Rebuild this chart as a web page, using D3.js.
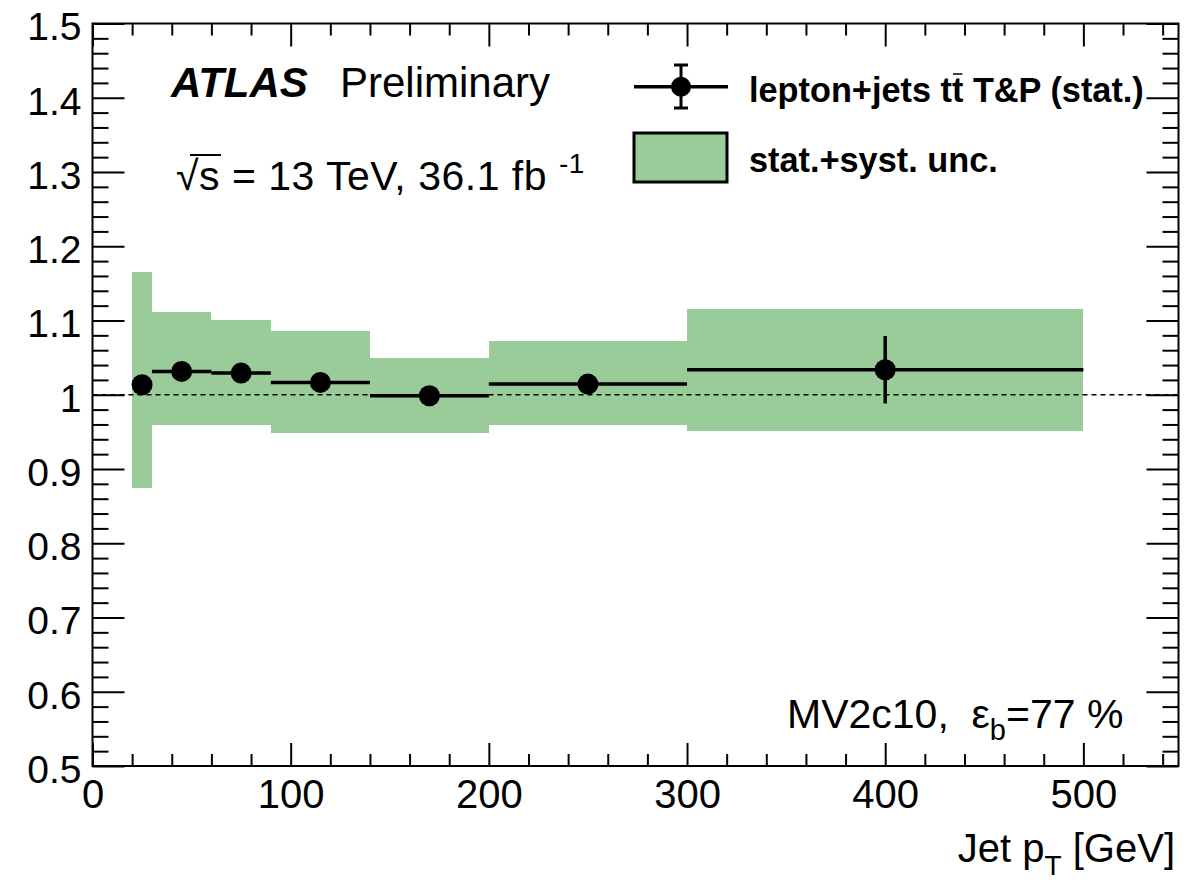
<!DOCTYPE html>
<html>
<head>
<meta charset="utf-8">
<script src="https://cdn.jsdelivr.net/npm/d3@7"></script>
<style>
  body { margin: 0; background: #fff; }
  svg { display: block; font-family: "Liberation Sans", Arial, sans-serif; }
</style>
</head>
<body>
<svg id="chart" width="1201" height="882"></svg>
<script>
// values
// =====================
const binLow = [20, 30, 60, 90, 140, 200, 300]
const binHigh = [30, 60, 90, 140, 200, 300, 500]
const binCenter = [25, 45, 75, 115, 170, 250, 400]
const sfValue = [1.0135, 1.0314, 1.0292, 1.0166, 0.9987, 1.0144, 1.0337]
const statErr = [0.006, 0.005, 0.005, 0.006, 0.007, 0.010, 0.0454]
const bandHigh = [1.1654, 1.1115, 1.1001, 1.0853, 1.0495, 1.0718, 1.1159]
const bandLow = [0.875, 0.9586, 0.9586, 0.9484, 0.9484, 0.9586, 0.9506]

const xMajor = [0, 100, 200, 300, 400, 500]
const xMinor = d3.range(20, 548, 20).filter(v => v % 100 !== 0)
const yMajor = [0.5, 0.6, 0.7, 0.8, 0.9, 1, 1.1, 1.2, 1.3, 1.4, 1.5]
const yMinor = d3.range(52, 150, 2).map(v => v / 100).filter(v => Math.round(v * 100) % 10 !== 0)

const bandColor = '#99cc99'
const frame = { left: 92.5, right: 1178.5, top: 23.5, bottom: 766 }

const x = d3.scaleLinear().domain([0, 548]).range([frame.left, frame.right])
const y = d3.scaleLinear().domain([0.5, 1.5]).range([frame.bottom, frame.top])

const svg = d3.select('#chart')

const bins = binLow.map((lo, i) => ({
  lo, hi: binHigh[i], c: binCenter[i], v: sfValue[i], e: statErr[i],
  up: bandHigh[i], dn: bandLow[i]
}))

// uncertainty band
svg.append('g')
  .selectAll('rect')
  .data(bins)
  .join('rect')
  .attr('x', d => x(d.lo))
  .attr('width', d => x(d.hi) - x(d.lo))
  .attr('y', d => y(d.up))
  .attr('height', d => y(d.dn) - y(d.up))
  .attr('fill', bandColor)
  .attr('shape-rendering', 'crispEdges')

// reference line at 1
svg.append('line')
  .attr('x1', frame.left).attr('x2', frame.right)
  .attr('y1', y(1)).attr('y2', y(1))
  .attr('stroke', '#000')
  .attr('stroke-width', 1.5)
  .attr('stroke-dasharray', '5,4')

// data points
const pts = svg.append('g')
pts.selectAll('line.h')
  .data(bins)
  .join('line')
  .attr('class', 'h')
  .attr('x1', d => x(d.lo)).attr('x2', d => x(d.hi))
  .attr('y1', d => y(d.v)).attr('y2', d => y(d.v))
  .attr('stroke', '#000').attr('stroke-width', 3.5)
pts.selectAll('line.v')
  .data(bins)
  .join('line')
  .attr('class', 'v')
  .attr('x1', d => x(d.c)).attr('x2', d => x(d.c))
  .attr('y1', d => y(d.v + d.e)).attr('y2', d => y(d.v - d.e))
  .attr('stroke', '#000').attr('stroke-width', 3.5)
pts.selectAll('circle')
  .data(bins)
  .join('circle')
  .attr('cx', d => x(d.c))
  .attr('cy', d => y(d.v))
  .attr('r', 10.5)
  .attr('fill', '#000')

// axes
// ====
function addAxis(gen, tx, ty, opt) {
  const g = svg.append('g')
    .attr('transform', `translate(${tx},${ty})`)
    .call(gen)
  g.select('.domain').remove()
  g.selectAll('.tick line').attr('stroke', '#000').attr('stroke-width', 2)
  g.attr('font-family', null).attr('font-size', opt.fontSize || 10)
  g.selectAll('.tick text').attr('fill', '#000')
  return g
}

addAxis(d3.axisBottom(x).tickValues(xMajor).tickSize(-23).tickPadding(13.6).tickFormat(d3.format('d')),
  0, frame.bottom, { fontSize: 40 })
addAxis(d3.axisBottom(x).tickValues(xMinor).tickSize(-12).tickFormat(''), 0, frame.bottom, {})
addAxis(d3.axisTop(x).tickValues(xMajor).tickSize(-23).tickFormat(''), 0, frame.top, {})
addAxis(d3.axisTop(x).tickValues(xMinor).tickSize(-12).tickFormat(''), 0, frame.top, {})

const yLeft = addAxis(d3.axisLeft(y).tickValues(yMajor).tickSize(-32).tickPadding(11).tickFormat(d3.format('~g')),
  frame.left, 0, { fontSize: 39 })
yLeft.selectAll('.tick text').attr('dy', '0.42em')
addAxis(d3.axisLeft(y).tickValues(yMinor).tickSize(-16).tickFormat(''), frame.left, 0, {})
addAxis(d3.axisRight(y).tickValues(yMajor).tickSize(-32).tickFormat(''), frame.right, 0, {})
addAxis(d3.axisRight(y).tickValues(yMinor).tickSize(-16).tickFormat(''), frame.right, 0, {})

svg.append('rect')
  .attr('x', frame.left).attr('y', frame.top)
  .attr('width', frame.right - frame.left)
  .attr('height', frame.bottom - frame.top)
  .attr('fill', 'none')
  .attr('stroke', '#000')
  .attr('stroke-width', 2)

// x axis title
const xt = svg.append('text')
  .attr('x', 1175).attr('y', 862)
  .attr('text-anchor', 'end')
  .attr('font-size', 40)
xt.append('tspan').text('Jet p')
xt.append('tspan').attr('font-size', 28).attr('dy', 13).text('T')
xt.append('tspan').attr('dy', -13).text('\u00a0[GeV]')

// labels
// ======
svg.append('text')
  .attr('x', 171).attr('y', 97)
  .attr('font-size', 42).attr('font-weight', 'bold').attr('font-style', 'italic')
  .text('ATLAS')
svg.append('text')
  .attr('x', 340).attr('y', 97)
  .attr('font-size', 42)
  .text('Preliminary')

const lumi = svg.append('text')
  .attr('x', 176).attr('y', 190)
  .attr('font-size', 41)
  .attr('letter-spacing', 0.5)
lumi.append('tspan').text('√s = 13 TeV, 36.1 fb\u00a0')
lumi.append('tspan').attr('font-size', 28).attr('dy', -17).text('-1')
const lumiNode = lumi.node()
svg.append('line')
  .attr('x1', lumiNode.getStartPositionOfChar(0).x + 14)
  .attr('x2', lumiNode.getEndPositionOfChar(1).x + 1)
  .attr('y1', 155).attr('y2', 155)
  .attr('stroke', '#000').attr('stroke-width', 2)

const tag = svg.append('text')
  .attr('x', 787).attr('y', 728)
  .attr('font-size', 41)
tag.append('tspan').text('MV2c10,\u00a0\u00a0ε')
tag.append('tspan').attr('font-size', 29).attr('dy', 12).text('b')
tag.append('tspan').attr('dy', -12).text('=77\u00a0%')

// legend
// ======
const legY = 86.7
svg.append('line')
  .attr('x1', 634).attr('x2', 728).attr('y1', legY).attr('y2', legY)
  .attr('stroke', '#000').attr('stroke-width', 3.5)
svg.append('line')
  .attr('x1', 681).attr('x2', 681).attr('y1', 65).attr('y2', 108)
  .attr('stroke', '#000').attr('stroke-width', 3)
svg.selectAll('line.cap')
  .data([65, 108])
  .join('line')
  .attr('class', 'cap')
  .attr('x1', 674).attr('x2', 688).attr('y1', d => d).attr('y2', d => d)
  .attr('stroke', '#000').attr('stroke-width', 3)
svg.append('circle')
  .attr('cx', 681).attr('cy', legY).attr('r', 10)
  .attr('fill', '#000')

const leg1 = svg.append('text')
  .attr('x', 749).attr('y', 101.7)
  .attr('font-size', 34.3).attr('font-weight', 'bold')
  .text('lepton+jets tt T&P (stat.)')
const l1 = leg1.node()
svg.append('line')
  .attr('x1', l1.getStartPositionOfChar(13).x + 1)
  .attr('x2', l1.getEndPositionOfChar(13).x - 1)
  .attr('y1', 74).attr('y2', 74)
  .attr('stroke', '#000').attr('stroke-width', 1.5)

svg.append('rect')
  .attr('x', 634).attr('y', 133)
  .attr('width', 93).attr('height', 49)
  .attr('fill', bandColor)
  .attr('stroke', '#000').attr('stroke-width', 3)
svg.append('text')
  .attr('x', 749).attr('y', 171.7)
  .attr('font-size', 34.3).attr('font-weight', 'bold')
  .text('stat.+syst. unc.')
</script>
</body>
</html>
